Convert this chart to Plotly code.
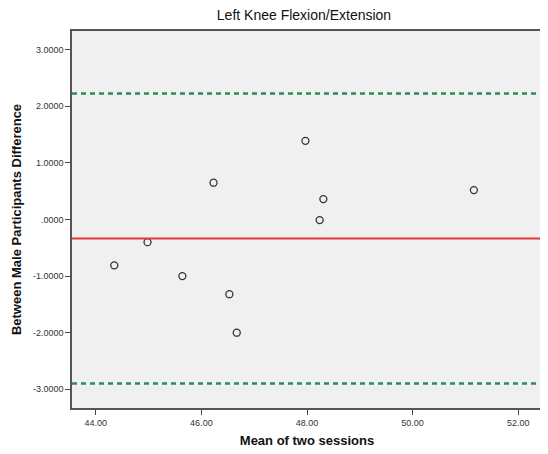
import plotly.graph_objects as go

mean_x = [44.35, 44.98, 45.64, 46.23, 46.53, 46.67, 47.97, 48.24, 48.31, 51.16]
diff_y = [-0.81, -0.40, -1.00, 0.65, -1.32, -2.00, 1.39, -0.01, 0.36, 0.52]
mean_diff = -0.336
upper_loa = 2.226
lower_loa = -2.898
y_ticks = [3, 2, 1, 0, -1, -2, -3]
y_tick_text = ["3.0000", "2.0000", "1.0000", ".0000", "-1.0000", "-2.0000", "-3.0000"]
x_ticks = [44, 46, 48, 50, 52]
x_tick_text = ["44.00", "46.00", "48.00", "50.00", "52.00"]

# page body has an 8px default margin, so the figure is laid out 8px smaller
W, H = 540, 446
OFF = 8

fig = go.Figure()
fig.add_trace(go.Scatter(
    x=mean_x, y=diff_y, mode="markers",
    marker=dict(symbol="circle-open", size=7, color="#333333", line=dict(width=1.3)),
    showlegend=False, cliponaxis=False))

fig.add_hline(y=mean_diff, line=dict(color="#e0393e", width=2))
fig.add_hline(y=upper_loa, line=dict(color="#2a8a55", width=2.5, dash="5px,4px"))
fig.add_hline(y=lower_loa, line=dict(color="#2a8a55", width=2.5, dash="5px,4px"))

fig.update_layout(
    width=W, height=H,
    margin=dict(l=72 - OFF, r=4, t=31 - OFF, b=46),
    paper_bgcolor="white", plot_bgcolor="#f0f0f0",
    font=dict(family="Liberation Sans, Arial, sans-serif", color="#222222"),
    title=dict(text="Left Knee Flexion/Extension", x=(304 - OFF) / W, xanchor="center",
               y=1 - (15 - OFF) / H, yanchor="middle",
               font=dict(size=14, color="#111111", family="Liberation Sans, Arial")),
)
fig.update_xaxes(
    range=[43.55, 52.45], tickvals=x_ticks, ticktext=x_tick_text,
    showgrid=False, zeroline=False, showline=True, linecolor="#555555", linewidth=1.5,
    mirror=True, ticks="outside", ticklen=5, tickcolor="#444444",
    tickfont=dict(size=9, color="#333333"),
    title=dict(text="<b>Mean of two sessions</b>", font=dict(size=13, color="#111111"), standoff=9))
fig.update_yaxes(
    range=[-3.33, 3.33], tickvals=y_ticks, ticktext=y_tick_text,
    showgrid=False, zeroline=False, showline=True, linecolor="#555555", linewidth=1.5,
    mirror=True, ticks="outside", ticklen=5, tickcolor="#444444",
    tickfont=dict(size=9, color="#333333"),
    title=dict(text="<b>Between Male Participants Difference</b>", font=dict(size=13, color="#111111"), standoff=8))

fig.write_html("out.html")
